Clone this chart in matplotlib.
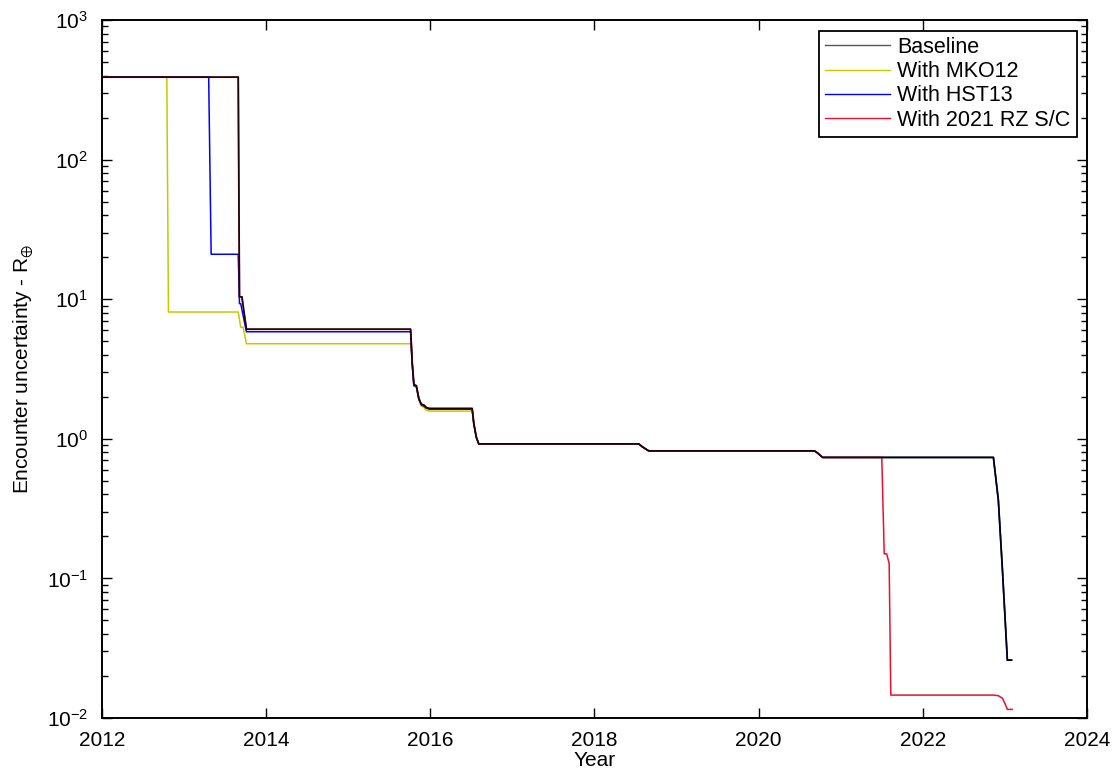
import matplotlib
matplotlib.use("Agg")
import matplotlib.pyplot as plt
from matplotlib.ticker import LogLocator, NullFormatter, FixedLocator

plt.rcParams["font.family"] = ["Liberation Sans", "DejaVu Sans"]
plt.rcParams["mathtext.default"] = "regular"

# encounter uncertainty (Earth radii) vs. decimal year, one step curve per case
base_year = [2012.0, 2013.66, 2013.675, 2013.705, 2013.73, 2013.76, 2015.76, 2015.78,
             2015.80, 2015.83, 2015.86, 2015.89, 2015.92, 2015.95, 2015.99, 2016.51,
             2016.53, 2016.56, 2016.59, 2018.54, 2018.58, 2018.66, 2020.68, 2020.72,
             2020.78, 2022.86, 2022.92, 2022.97, 2023.03, 2023.08]
base_val = [390, 390, 10.4, 10.4, 8.1, 6.1, 6.1, 3.5,
            2.45, 2.4, 1.95, 1.77, 1.75, 1.68, 1.65, 1.65,
            1.29, 1.03, 0.92, 0.92, 0.88, 0.82, 0.82, 0.79,
            0.736, 0.736, 0.365, 0.115, 0.026, 0.026]

mko_year = [2012.0, 2012.79, 2012.81, 2013.66, 2013.69, 2013.72, 2013.76, 2015.76,
            2015.78, 2015.80, 2015.83, 2015.86, 2015.89, 2015.92, 2015.95, 2015.99,
            2016.51, 2016.53, 2016.56, 2016.59, 2018.54, 2018.58, 2018.66, 2020.68,
            2020.72, 2020.78, 2022.86, 2022.92, 2022.97, 2023.03, 2023.08]
mko_val = [390, 390, 8.1, 8.1, 6.3, 6.3, 4.8, 4.8,
           3.4, 2.4, 2.35, 1.9, 1.72, 1.68, 1.6, 1.58,
           1.58, 1.27, 1.02, 0.92, 0.92, 0.88, 0.82, 0.82,
           0.79, 0.736, 0.736, 0.365, 0.115, 0.026, 0.026]

hst_year = [2012.0, 2013.30, 2013.33, 2013.66, 2013.675, 2013.69, 2013.76, 2015.76,
            2015.78, 2015.80, 2015.83, 2015.86, 2015.89, 2015.92, 2015.95, 2015.99,
            2016.51, 2016.53, 2016.56, 2016.59, 2018.54, 2018.58, 2018.66, 2020.68,
            2020.72, 2020.78, 2022.86, 2022.92, 2022.97, 2023.03, 2023.08]
hst_val = [390, 390, 21, 21, 9.3, 9.3, 5.85, 5.85,
           3.4, 2.4, 2.38, 1.93, 1.75, 1.72, 1.66, 1.63,
           1.63, 1.28, 1.03, 0.92, 0.92, 0.88, 0.82, 0.82,
           0.79, 0.736, 0.736, 0.365, 0.115, 0.026, 0.026]

rz_year = [2012.0, 2013.66, 2013.675, 2013.705, 2013.73, 2013.76, 2015.76, 2015.78,
           2015.80, 2015.83, 2015.86, 2015.89, 2015.92, 2015.95, 2015.99, 2016.51,
           2016.53, 2016.56, 2016.59, 2018.54, 2018.58, 2018.66, 2020.68, 2020.72,
           2020.78, 2021.50, 2021.53, 2021.56, 2021.59, 2021.61, 2022.86, 2022.92,
           2022.97, 2023.00, 2023.03, 2023.09]
rz_val = [390, 390, 10.4, 10.4, 8.1, 6.1, 6.1, 3.5,
          2.45, 2.4, 1.95, 1.77, 1.75, 1.68, 1.65, 1.65,
          1.29, 1.03, 0.92, 0.92, 0.88, 0.82, 0.82, 0.79,
          0.736, 0.736, 0.15, 0.15, 0.128, 0.0146, 0.0146, 0.01445,
          0.01384, 0.01274, 0.01153, 0.01153]

labels = ["Baseline", "With MKO12", "With HST13", "With 2021 RZ S/C"]
colors = ["black", "#c8c800", "#0000ff", "#e8102e"]

fig = plt.figure(figsize=(11.12, 7.71), dpi=100)
ax = fig.add_axes([0.0917, 0.0687, 0.8858, 0.9053])

ax.plot(mko_year, mko_val, color=colors[1], lw=1.1, zorder=2)
ax.plot(hst_year, hst_val, color=colors[2], lw=1.1, zorder=3)
ax.plot(rz_year, rz_val, color=colors[3], lw=1.1, zorder=4)
ax.plot(base_year, base_val, color=colors[0], lw=1.3, alpha=0.85, zorder=5)

ax.set_yscale("log")
ax.set_xlim(2012, 2024)
ax.set_ylim(1e-2, 1e3)
ax.xaxis.set_major_locator(FixedLocator(range(2012, 2025, 2)))
ax.yaxis.set_major_locator(LogLocator(base=10, numticks=10))
ax.yaxis.set_minor_locator(LogLocator(base=10, subs=range(2, 10), numticks=10))
ax.yaxis.set_minor_formatter(NullFormatter())

ax.tick_params(which="both", direction="in", top=True, right=True,
               labelsize=15, width=1.0)
ax.tick_params(which="major", length=7)
ax.tick_params(which="minor", length=4)
ax.tick_params(axis="x", pad=9)
ax.tick_params(axis="y", pad=10)
for sp in ax.spines.values():
    sp.set_linewidth(1.4)

ax.set_xlabel("Year", fontsize=15, labelpad=1)
ax.set_ylabel(r"Encounter uncertainty - R$_{\oplus}$", fontsize=15, labelpad=8)

handles = [plt.Line2D([], [], color=c, lw=1.0) for c in colors]
handles[0].set_color("#555555")
leg = ax.legend(handles, labels, loc="upper right", bbox_to_anchor=(0.99, 0.985),
                borderaxespad=0, fontsize=15.5, frameon=True, fancybox=False,
                framealpha=1, edgecolor="black", handlelength=3.0,
                handletextpad=0.35, labelspacing=0.15, borderpad=0.3)
leg.get_frame().set_linewidth(1.3)

fig.savefig("out.png", dpi=100)
